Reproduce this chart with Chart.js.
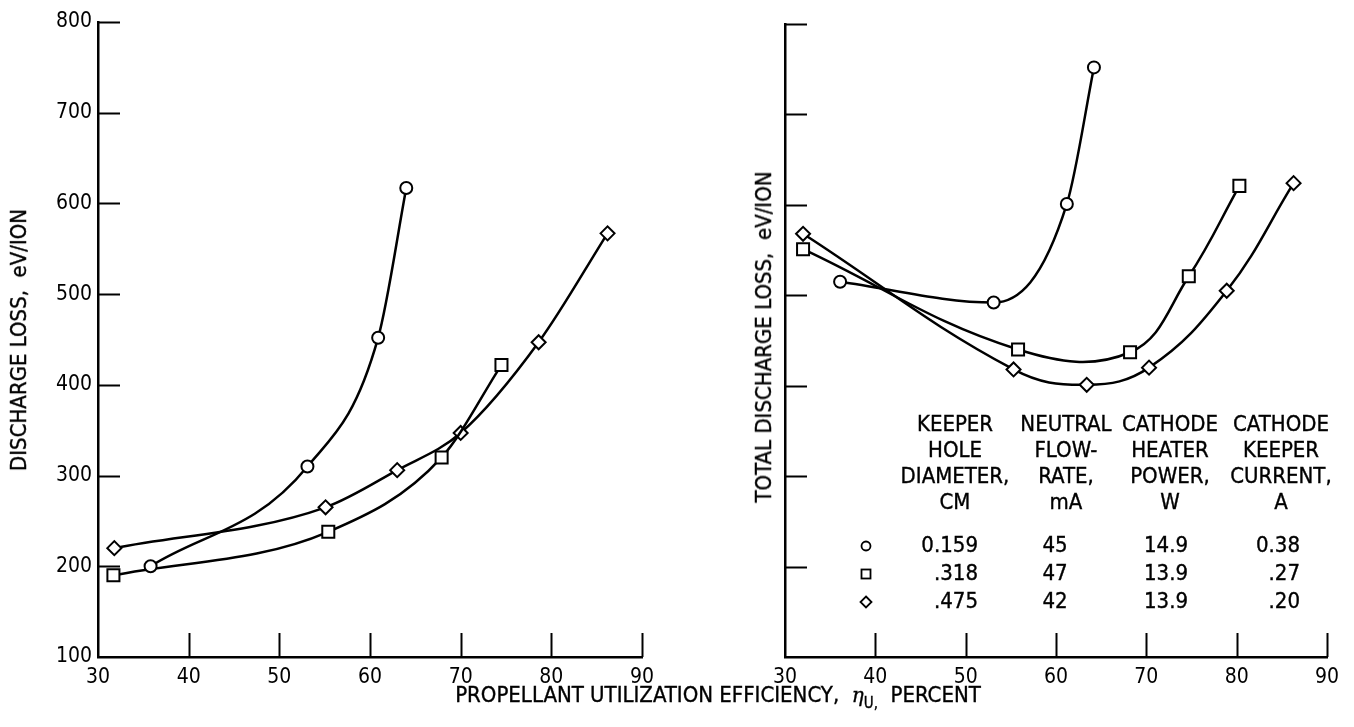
<!DOCTYPE html>
<html><head><meta charset="utf-8">
<script src="https://cdn.jsdelivr.net/npm/chart.js@4/dist/chart.umd.min.js"></script>
<style>
html,body{margin:0;padding:0;background:#fff}
body{width:1354px;height:727px;position:relative;overflow:hidden;font-family:"Liberation Sans Narrow","DejaVu Sans Condensed","Roboto Condensed",sans-serif;color:#000}
canvas{position:absolute;top:0}
#c1{left:0}
#c2{left:700px}
.t{position:absolute;font-size:22px;white-space:pre;line-height:1;-webkit-text-stroke:0.35px #000}
.rot{transform:translate(-50%,-50%) rotate(-90deg)}
.ctr{transform:translate(-50%,-50%)}
.rgt{transform:translate(-100%,-50%)}
sub{font-size:15px;vertical-align:-6px}
</style></head>
<body>
<canvas id="c1" width="680" height="727"></canvas>
<canvas id="c2" width="654" height="727"></canvas>
<div class="t rot" style="left:19px;top:340px">DISCHARGE LOSS,  eV/ION</div>
<div class="t rot" style="left:764px;top:337px">TOTAL DISCHARGE LOSS,  eV/ION</div>
<div class="t ctr" style="left:718px;top:697px">PROPELLANT UTILIZATION EFFICIENCY,  <i style="font-family:'DejaVu Serif',serif;font-size:20px">η</i><sub>U,</sub>  PERCENT</div>
<div id="legend"></div>
<script>
// ---- data: left panel (discharge loss) ----
const xTicks = [30, 40, 50, 60, 70, 80, 90];
const yTicks = [100, 200, 300, 400, 500, 600, 700, 800];

const leftCircleX  = [35.8, 53.1, 60.9, 64.0];
const leftCircleY  = [200, 310, 452, 617];
const leftSquareX  = [31.7, 55.4, 67.9, 74.5];
const leftSquareY  = [190, 238, 320, 422];
const leftDiamondX = [31.8, 55.1, 63.0, 70.0, 78.6, 86.2];
const leftDiamondY = [220, 265, 306, 347, 447, 567];

// ---- data: right panel (total discharge loss) ----
const rightCircleX  = [36.1, 53.1, 61.2, 64.2];
const rightCircleY  = [515, 492, 601, 752];
const rightSquareX  = [32.0, 55.8, 68.2, 74.7, 80.3];
const rightSquareY  = [551, 440, 437, 521, 621];
const rightDiamondX = [32.0, 55.3, 63.4, 70.3, 78.9, 86.3];
const rightDiamondY = [568, 418, 401, 420, 505, 624];

// ---- legend table ----
const legendHeaders = [
  ["KEEPER", "HOLE", "DIAMETER,", "CM"],
  ["NEUTRAL", "FLOW-", "RATE,", "mA"],
  ["CATHODE", "HEATER", "POWER,", "W"],
  ["CATHODE", "KEEPER", "CURRENT,", "A"]
];
const legendSymbols = ["circle", "square", "diamond"];
const legendDiameter = ["0.159", ".318", ".475"];
const legendFlow     = ["45", "47", "42"];
const legendHeater   = ["14.9", "13.9", "13.9"];
const legendKeeper   = ["0.38", ".27", ".20"];

const INK = '#000';
const FONT = '"Liberation Sans Narrow","DejaVu Sans Condensed","Roboto Condensed",sans-serif';

function pts(xs, ys){ return xs.map((x,i)=>({x:x, y:ys[i]})); }
function ds(xs, ys, style, r, mode){
  const d = {data: pts(xs, ys), borderColor: INK, borderWidth: 2.5, tension: 0.4,
    pointStyle: style, pointRadius: r, pointHoverRadius: r, pointBorderWidth: 2,
    pointBorderColor: INK, pointBackgroundColor: '#fff', fill: false, showLine: true};
  if (mode === 'monotone') d.cubicInterpolationMode = 'monotone';
  return d;
}

const innerTicks = {
  id: 'innerTicks',
  afterDraw(chart){
    const ctx = chart.ctx, ca = chart.chartArea;
    const xs = chart.scales.x, ys = chart.scales.y;
    ctx.save(); ctx.strokeStyle = INK; ctx.lineWidth = 2;
    ys.ticks.forEach((t,i)=>{
      if (t.value === ys.min) return;
      const y = Math.round(ys.getPixelForTick(i)) + 0.5;
      ctx.beginPath(); ctx.moveTo(ca.left, y); ctx.lineTo(ca.left + 22, y); ctx.stroke();
    });
    xs.ticks.forEach((t,i)=>{
      if (t.value === xs.min) return;
      const x = Math.round(xs.getPixelForTick(i)) + 0.5;
      ctx.beginPath(); ctx.moveTo(x, ca.bottom); ctx.lineTo(x, ca.bottom - 24); ctx.stroke();
    });
    ctx.restore();
  }
};

function makeChart(id, datasets, yAxisWidth, pad, showYLabels){
  return new Chart(document.getElementById(id), {
    type: 'scatter',
    data: {datasets},
    options: {
      responsive: false, animation: false, devicePixelRatio: 1,
      layout: {padding: pad},
      plugins: {legend: {display: false}, tooltip: {enabled: false}, title: {display: false}},
      scales: {
        x: {type: 'linear', min: xTicks[0], max: xTicks[xTicks.length-1],
          afterBuildTicks(s){ s.ticks = xTicks.map(v=>({value:v})); },
          ticks: {color: INK, font: {family: FONT, size: 21}, padding: 8, maxRotation: 0, autoSkip: false},
          grid: {display: false, drawTicks: false},
          border: {display: true, color: INK, width: 2.5},
          afterFit(s){ s.height = 70; }
        },
        y: {type: 'linear', min: yTicks[0], max: yTicks[yTicks.length-1],
          afterBuildTicks(s){ s.ticks = yTicks.map(v=>({value:v})); },
          ticks: {display: showYLabels, color: INK, font: {family: FONT, size: 21}, padding: 6, autoSkip: false},
          grid: {display: false, drawTicks: false},
          border: {display: true, color: INK, width: 2.5},
          afterFit(s){ s.width = yAxisWidth; }
        }
      }
    },
    plugins: [innerTicks]
  });
}

makeChart('c1', [
  ds(leftCircleX, leftCircleY, 'circle', 6, 'monotone'),
  ds(leftSquareX, leftSquareY, 'rect', 8.5, 'monotone'),
  ds(leftDiamondX, leftDiamondY, 'rectRot', 7, 'monotone')
], 98, {top: 22, right: 38, left: 0, bottom: 0}, true);

makeChart('c2', [
  ds(rightCircleX, rightCircleY, 'circle', 6, 'monotone'),
  ds(rightSquareX, rightSquareY, 'rect', 8.5, 'default'),
  ds(rightDiamondX, rightDiamondY, 'rectRot', 7, 'default')
], 85, {top: 24, right: 27, left: 0, bottom: 0}, false);

// legend (HTML text)
const L = document.getElementById('legend');
function put(txt, x, y, cls){
  const d = document.createElement('div');
  d.className = 't ' + cls; d.style.left = x + 'px'; d.style.top = y + 'px';
  d.textContent = txt; L.appendChild(d);
}
const colCenters = [955, 1066, 1170, 1281];
const headY = [424, 450, 476, 502];
legendHeaders.forEach((col, c)=> col.forEach((line, r)=> put(line, colCenters[c], headY[r], 'ctr')));
const rowY = [545, 573, 601];
const svgs = {
  circle: '<svg width="14" height="14"><circle cx="7" cy="7" r="4.5" fill="#fff" stroke="#000" stroke-width="1.8"/></svg>',
  square: '<svg width="14" height="14"><rect x="2.5" y="2.5" width="9" height="9" fill="#fff" stroke="#000" stroke-width="1.8"/></svg>',
  diamond: '<svg width="14" height="14"><path d="M7 1.5 L12.5 7 L7 12.5 L1.5 7 Z" fill="#fff" stroke="#000" stroke-width="1.8"/></svg>'
};
legendSymbols.forEach((s, i)=>{
  const d = document.createElement('div');
  d.style.cssText = 'position:absolute;left:' + (866-7) + 'px;top:' + (rowY[i]-7) + 'px;width:14px;height:14px';
  d.innerHTML = svgs[s]; L.appendChild(d);
  put(legendDiameter[i], 978, rowY[i], 'rgt');
  put(legendFlow[i], 1055, rowY[i], 'ctr');
  put(legendHeater[i], 1166, rowY[i], 'ctr');
  put(legendKeeper[i], 1300, rowY[i], 'rgt');
});
</script>
</body></html>
